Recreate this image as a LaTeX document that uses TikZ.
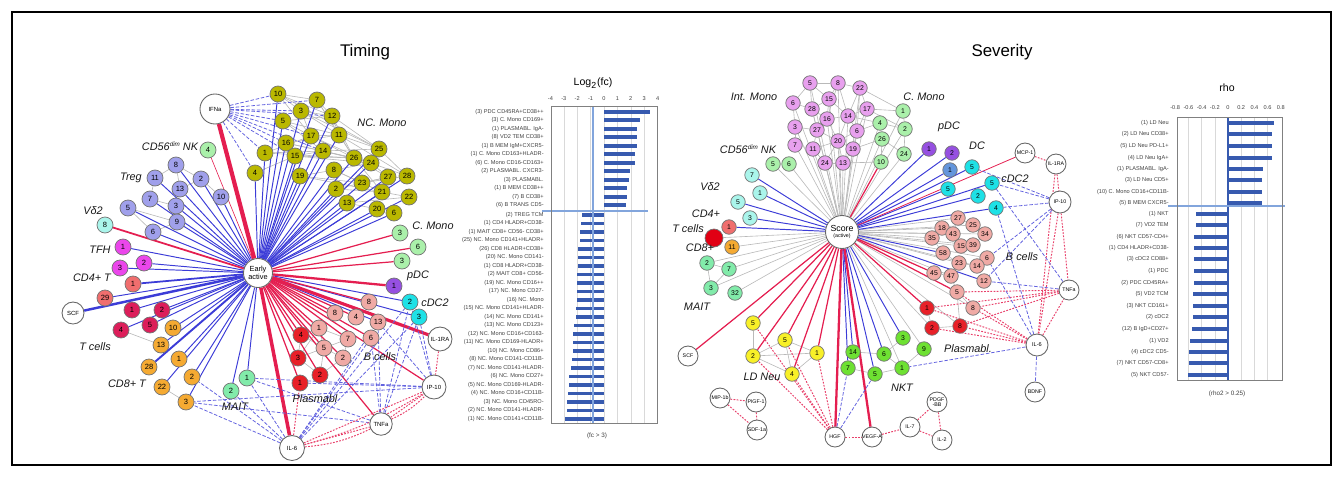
\documentclass[tikz,border=0pt]{standalone}
\usepackage{fontspec}
\setmainfont{Liberation Sans}
\usetikzlibrary{backgrounds}
\definecolor{lnblue}{RGB}{60,60,215}
\definecolor{lnred}{RGB}{228,30,80}
\definecolor{lngray}{RGB}{185,185,185}
\definecolor{ncmono}{RGB}{186,184,0}
\definecolor{cmono}{RGB}{170,240,170}
\definecolor{pdcc}{RGB}{150,80,225}
\definecolor{cdcc}{RGB}{30,225,230}
\definecolor{bcell}{RGB}{240,170,165}
\definecolor{plasma}{RGB}{232,32,40}
\definecolor{mait}{RGB}{130,235,170}
\definecolor{cdeight}{RGB}{245,170,50}
\definecolor{tcell}{RGB}{220,30,90}
\definecolor{cdfour}{RGB}{240,110,110}
\definecolor{tfh}{RGB}{235,70,235}
\definecolor{vdtwo}{RGB}{170,245,235}
\definecolor{treg}{RGB}{160,160,235}
\definecolor{intmono}{RGB}{232,160,238}
\definecolor{ldneu}{RGB}{248,240,40}
\definecolor{nkt}{RGB}{110,225,50}
\definecolor{dcc}{RGB}{100,150,220}
\definecolor{tred}{RGB}{225,0,20}
\definecolor{barblue}{RGB}{55,90,175}
\definecolor{axblue}{RGB}{130,165,220}
\newcommand{\dimsup}{\raisebox{2.2pt}{\fontsize{3.6}{3.6}\selectfont dim}}

\begin{document}
\begin{tikzpicture}[x=0.02cm, y=-0.02cm,
    cell/.style={circle, draw=black!55, fill=#1, line width=0.4pt, inner sep=0pt, minimum size=0.32cm, font=\fontsize{4.3}{4.3}\selectfont},
    scell/.style={cell=#1, minimum size=0.29cm, font=\fontsize{3.9}{3.9}\selectfont},
    cyto/.style={circle, draw=black!60, fill=white, line width=0.5pt, inner sep=0pt, minimum size=#1, font=\fontsize{3.4}{3.6}\selectfont, align=center},
    grp/.style={font=\fontsize{6.2}{7}\selectfont\itshape, inner sep=0pt, text=black!90},
    ttl/.style={font=\fontsize{9.6}{11}\selectfont, inner sep=0pt},
    blab/.style={font=\fontsize{3.2}{3.5}\selectfont, anchor=east, inner sep=0pt, text=black!75},
    axlab/.style={font=\fontsize{3.2}{3.5}\selectfont, inner sep=0pt, text=black!75},
    bl/.style={draw=lnblue, line width=0.55pt},
    rd/.style={draw=lnred, line width=0.7pt},
    gr/.style={draw=lngray, line width=0.35pt},
    bld/.style={draw=lnblue!80, line width=0.45pt, dash pattern=on 2pt off 1pt},
    rdd/.style={draw=lnred!85, line width=0.55pt, dash pattern=on 1pt off 0.8pt},
    barfill/.style={fill=barblue}
  ]
\useasboundingbox (0,0) rectangle (1343,477);
\draw[line width=0.6pt] (12,12) rectangle (1331,465);

\node[ttl] (ttime) at (365,52) {Timing};
\node[ttl] (tsev) at (1002,52) {Severity};

% timing network
\node[cyto=0.58cm, font=\fontsize{4.2}{4.6}\selectfont] (tearly) at (258,273) {Early\\active};
\node[cyto=0.6cm] (tifna) at (215,109) {IFNa};
\node[cyto=0.5cm] (til6) at (292,448) {IL-6};
\node[cyto=0.45cm] (ttnfa) at (381,424) {TNFa};
\node[cyto=0.48cm] (tip10) at (434,387) {IP-10};
\node[cyto=0.48cm] (til1ra) at (440,339) {IL-1RA};
\node[cyto=0.44cm] (tscf) at (73,313) {SCF};

\foreach \t/\x/\y in {10/278/94, 7/317/100, 3/301/111, 12/332/116, 5/283/121, 17/311/136, 11/339/135, 16/286/143, 1/265/153, 15/295/156, 14/323/151, 26/354/158, 25/379/149, 24/371/163, 4/255/173, 19/300/176, 8/334/170, 23/362/183, 27/388/177, 28/407/176, 2/336/189, 21/382/192, 22/409/197, 13/347/203, 20/377/209, 6/394/213}
  \node[cell=ncmono] (tnc\t) at (\x,\y) {\t};
\foreach \t/\x/\y in {8/176/165, 2/201/179, 11/155/178, 13/180/189, 7/150/199, 3/176/206, 10/221/197, 5/128/208, 9/177/222, 6/153/232}
  \node[cell=treg] (ttr\t) at (\x,\y) {\t};
\node[cell=cmono] (tnk4) at (208,150) {4};
\node[cell=vdtwo] (tvd8) at (105,225) {8};
\foreach \t/\x/\y in {1/123/247, 2/144/263, 3/120/268}
  \node[cell=tfh] (ttf\t) at (\x,\y) {\t};
\foreach \t/\x/\y in {1/133/284, 29/105/298}
  \node[cell=cdfour] (tfour\t) at (\x,\y) {\t};
\foreach \t/\x/\y in {1/132/310, 2/162/310, 4/121/330, 5/150/325}
  \node[cell=tcell] (ttc\t) at (\x,\y) {\t};
\foreach \t/\x/\y in {10/173/328, 13/161/345, 1/179/359, 28/149/367, 2/192/377, 22/162/387, 3/186/402}
  \node[cell=cdeight] (teight\t) at (\x,\y) {\t};
\foreach \t/\x/\y in {1/247/378, 2/231/391}
  \node[cell=mait] (tmait\t) at (\x,\y) {\t};
\foreach \t/\x/\y in {4/301/335, 3/298/358, 2/320/375, 1/300/383}
  \node[cell=plasma] (tpl\t) at (\x,\y) {\t};
\foreach \k/\t/\x/\y in {a/8/369/302, b/8/335/313, c/4/356/317, d/13/378/322, e/1/319/328, f/7/348/339, g/6/371/338, h/5/324/348, i/2/343/358}
  \node[cell=bcell] (tb\k) at (\x,\y) {\t};
\foreach \t/\x/\y in {2/410/302, 3/419/317}
  \node[cell=cdcc] (tcdc\t) at (\x,\y) {\t};
\node[cell=pdcc] (tpdc1) at (394,286) {1};
\foreach \k/\t/\x/\y in {a/3/400/233, b/6/418/247, c/3/402/261}
  \node[cell=cmono] (tcm\k) at (\x,\y) {\t};

\node[grp] (lncm) at (382,123) {NC. Mono};
\node[grp] (lcm) at (433,226) {C. Mono};
\node[grp] (lpdc) at (418,276) {pDC};
\node[grp] (lcdc) at (435,303) {cDC2};
\node[grp] (lbc) at (380,357) {B cells};
\node[grp] (lpl) at (315,399) {Plasmabl};
\node[grp] (lmait) at (235,407) {MAIT};
\node[grp] (leight) at (127,384) {CD8+ T};
\node[grp] (ltc) at (95,347) {T cells};
\node[grp] (lfour) at (92,278) {CD4+ T};
\node[grp] (ltfh) at (100,250) {TFH};
\node[grp] (lvd) at (93,211) {Vδ2};
\node[grp] (ltreg) at (131,178) {Treg};
\node[grp] (lnk) at (170,146) {CD56\dimsup{} NK};

\begin{scope}[on background layer]
\foreach \a/\b in {10/7,10/3,10/12,10/17,10/25,7/12,7/11,7/26,3/17,3/12,3/11,3/25,12/11,12/25,12/26,5/17,5/14,5/11,17/11,17/26,17/24,16/14,16/26,1/14,1/26,15/26,15/24,14/26,14/24,14/25,11/25,11/26,11/28,26/24,26/27,26/21,24/28,24/27,8/23,8/21,19/23,19/21,2/21,2/27,13/20,13/22,23/27,23/28,21/22,25/28,16/11,15/14,5/12,1/17,4/15,19/8,8/24}
  \draw[gr] (tnc\a) -- (tnc\b);
\foreach \a/\b in {8/2,8/11,8/13,11/7,13/3,7/3,5/9,5/6,9/6,2/10,3/9,13/2}
  \draw[gr] (ttr\a) -- (ttr\b);
\foreach \a/\b in {pl4/be,pl4/bh,pl3/bh,pl3/be,pl2/bh,pl2/bi,be/bh,bh/bi,be/bf,bf/bi,pl4/pl3,bh/bf,pl3/pl2,tc4/eight13,eight22/eight3}
  \draw[gr] (t\a) -- (t\b);
\foreach \t in {10,7,3,12,5,17,11,16,1,15,14,26,25,24,4,19,8,23,27,28,2,21,22,13,20,6}
  \draw[bl] (tearly) -- (tnc\t);
\foreach \n in {tr8,tr2,tr11,tr13,tr7,tr3,tr10,tr5,tr9,tr6,tf1,tf2,tf3,four29,tc1,tc2,tc4,tc5,eight10,eight13,eight1,eight2,eight22,eight3,mait1,mait2,cdc2,cdc3,bd}
  \draw[bl] (tearly) -- (t\n);
\draw[bl, line width=1pt] (tearly) -- (tfour1);
\draw[bl, line width=1.1pt] (tearly) -- (teight28);
\draw[bl, line width=1.4pt] (tearly) -- (tscf);
\draw[rd, line width=2.4pt] (tearly) -- (tifna);
\draw[rd, line width=0.35pt] (tearly) -- (tnk4);
\draw[rd, line width=1pt] (tearly) -- (tvd8);
\draw[rd, line width=2pt] (tearly) -- (til6);
\draw[rd, line width=1.8pt] (tearly) -- (til1ra);
\draw[rd, line width=1.3pt] (tearly) -- (tpdc1);
\foreach \n in {pl1,pl2,pl3,pl4,ba,bb,bc,be,bf,bg,bh,bi,cma,cmb,cmc,tnfa,ip10}
  \draw[rd] (tearly) -- (t\n);
\foreach \t in {10,7,3,12,5,17,16,1,4,15,14}
  \draw[bld] (tifna) -- (tnc\t);
\foreach \a/\b in {il6/mait1,il6/mait2,il6/eight3,il6/cdc2,il6/cdc3,il6/bg,il6/bd,tnfa/eight3,tnfa/mait1,tnfa/cdc2,tnfa/bg,tnfa/bd,tnfa/cdc3,ip10/eight3,ip10/mait1,ip10/pl1,ip10/cdc2,ip10/cdc3,ip10/bd,il6/eight2}
  \draw[bld] (t\a) -- (t\b);
\foreach \a/\b in {il6/tnfa,il6/ip10,tnfa/ip10,il1ra/ip10,il6/pl1}
  \draw[rdd] (t\a) -- (t\b);
\draw[rdd] (til6) to[bend right=10] (ttnfa);
\draw[rdd] (til6) to[bend right=8] (tip10);
\draw[rdd] (ttnfa) to[bend right=10] (tip10);
\end{scope}

% log2 fc chart
\node[font=\fontsize{6}{7}\selectfont, inner sep=0pt] (lfct) at (593,83) {Log\textsubscript{2}(fc)};
\foreach \k in {-3,...,3}
  \draw[black!15, line width=0.3pt] ({604+13.4*(\k)},106) -- ({604+13.4*(\k)},423);
\foreach \k [count=\i] in {-4,...,4}
  \node[axlab] (lfx\i) at ({604+13.4*(\k)},99) {\k};
\foreach \y/\v/\t [count=\i] in {111.7/3.43/{(3) PDC CD45RA+CD38++}, 120.2/2.69/{(3) C. Mono CD169+}, 128.7/2.49/{(1) PLASMABL. IgA-}, 137.2/2.49/{(8) VD2 TEM CD38+}, 145.7/2.45/{(1) B MEM IgM+CXCR5-}, 154.2/2.3/{(1) C. Mono CD163+HLADR-}, 162.7/2.3/{(6) C. Mono CD16-CD163+}, 171.2/1.94/{(2) PLASMABL. CXCR3-}, 179.7/1.89/{(3) PLASMABL.}, 188.2/1.74/{(1) B MEM CD38++}, 196.7/1.74/{(7) B CD38+}, 205.2/1.62/{(6) B TRANS CD5-}}
{
  \fill[barfill] (604,\y-1.9) rectangle ({604+13.4*(\v)},\y+1.9);
  \node[blab] (lfa\i) at (544,\y) {\t};
}
\foreach \y/\v/\t [count=\i] in {215/-1.64/{(2) TREG TCM}, 223.5/-1.72/{(1) CD4 HLADR+CD38-}, 232/-1.79/{(1) MAIT CD8+ CD56- CD38+}, 240.5/-1.79/{(25) NC. Mono CD141+HLADR+}, 249/-1.94/{(26) CD8 HLADR+CD38+}, 257.5/-1.94/{(20) NC. Mono CD141-}, 266/-1.94/{(1) CD8 HLADR+CD38-}, 274.5/-2.0/{(2) MAIT CD8+ CD56-}, 283/-2.0/{(19) NC. Mono CD16++}, 291.5/-2.0/{(17) NC. Mono CD27-}, 300/-2.0/{(16) NC. Mono}, 308.5/-2.1/{(15) NC. Mono CD141+HLADR-}, 317/-2.1/{(14) NC. Mono CD141+}, 325.5/-2.24/{(13) NC. Mono CD123+}, 334/-2.3/{(12) NC. Mono CD16+CD163-}, 342.5/-2.3/{(11) NC. Mono CD169-HLADR+}, 351/-2.3/{(10) NC. Mono CD86+}, 359.5/-2.4/{(8) NC. Mono CD141-CD11B-}, 368/-2.5/{(7) NC. Mono CD141-HLADR-}, 376.5/-2.6/{(6) NC. Mono CD27+}, 385/-2.6/{(5) NC. Mono CD169-HLADR-}, 393.5/-2.7/{(4) NC. Mono CD16+CD11B-}, 402/-2.75/{(3) NC. Mono CD45RO-}, 410.5/-2.75/{(2) NC. Mono CD141-HLADR-}, 419/-2.9/{(1) NC. Mono CD141+CD11B-}}
{
  \fill[barfill] (604,\y-1.9) rectangle ({604+13.4*(\v)},\y+1.9);
  \node[blab] (lfb\i) at (544,\y) {\t};
}
\draw[axblue, line width=1.3pt] (593,106) -- (593,423);
\draw[axblue, line width=1.3pt] (542,211) -- (648,211);
\draw[black!50, line width=0.4pt] (551,106) rectangle (657,423);
\node[axlab, font=\fontsize{3.6}{4}\selectfont] (lfcf) at (597,436) {(fc > 3)};

% severity network
\node[cyto=0.66cm, font=\fontsize{5}{5}\selectfont] (sscore) at (842,232) {Score\\[-1.5pt]{\fontsize{3}{3}\selectfont (active)}};
\foreach \n/\x/\y/\t in {mcp/1025/153/MCP-1, il1ra/1056/164/IL-1RA, tnfa/1069/290/TNFa, bdnf/1035/392/BDNF, hgf/835/437/HGF, vegf/872/437/VEGF-A, il7/910/427/IL-7, il2/942/440/IL-2, mip/720/398/MIP-1b, pigf/756/402/PIGF-1, sdf/757/430/SDF-1a, scf/688/356/SCF}
  \node[cyto=0.4cm, font=\fontsize{3}{3.2}\selectfont] (s\n) at (\x,\y) {\t};
\node[cyto=0.44cm, font=\fontsize{3}{3.2}\selectfont] (sip10) at (1060,202) {IP-10};
\node[cyto=0.44cm, font=\fontsize{3.2}{3.2}\selectfont] (sil6) at (1037,345) {IL-6};
\node[cyto=0.4cm, font=\fontsize{3}{3.2}\selectfont] (spdgf) at (937,402) {PDGF\\-BB};

\foreach \k/\t/\x/\y in {a/5/810/83, b/8/838/83, c/22/860/88, d/6/793/103, e/15/829/99, f/28/812/109, g/17/867/109, h/16/827/119, i/14/848/116, j/3/795/127, k/27/817/130, l/6/857/131, m/20/838/141, n/7/795/145, o/11/813/149, p/19/853/149, q/24/825/163, r/13/843/163}
  \node[scell=intmono] (sim\k) at (\x,\y) {\t};
\foreach \k/\t/\x/\y in {a/1/903/111, b/4/880/123, c/2/905/129, d/26/882/139, e/24/904/154, f/10/881/162}
  \node[scell=cmono] (scm\k) at (\x,\y) {\t};
\foreach \k/\t/\x/\y in {a/5/773/164, b/6/789/164}
  \node[scell=cmono] (snk\k) at (\x,\y) {\t};
\foreach \t/\x/\y in {1/929/149, 2/952/153}
  \node[scell=pdcc] (spdc\t) at (\x,\y) {\t};
\node[scell=dcc] (sdc1) at (950,170) {1};
\foreach \k/\t/\x/\y in {a/5/972/167, b/5/948/189, c/5/992/183, d/2/978/196, e/4/996/208}
  \node[scell=cdcc] (scdc\k) at (\x,\y) {\t};
\foreach \k/\t/\x/\y in {a/7/752/175, b/1/760/193, c/5/738/202, d/3/750/218}
  \node[scell=vdtwo] (svd\k) at (\x,\y) {\t};
\node[scell=cdfour] (sfour1) at (729,227) {1};
\node[scell=tred, minimum size=0.36cm] (stc) at (714,238) {};
\node[scell=cdeight] (seight11) at (732,247) {11};
\foreach \k/\t/\x/\y in {a/2/707/263, b/7/729/269, c/3/711/288, d/32/735/293}
  \node[scell=mait] (smait\k) at (\x,\y) {\t};
\foreach \k/\t/\x/\y in {a/5/753/323, b/5/785/340, c/1/817/353, d/2/753/356, e/4/792/374}
  \node[scell=ldneu] (sld\k) at (\x,\y) {\t};
\foreach \k/\t/\x/\y in {a/3/903/338, b/14/853/352, c/6/884/354, d/9/924/349, e/7/848/368, f/5/875/374, g/1/902/368}
  \node[scell=nkt] (snkt\k) at (\x,\y) {\t};
\foreach \k/\t/\x/\y in {a/1/927/308, b/2/932/328, c/8/960/326}
  \node[scell=plasma] (spl\k) at (\x,\y) {\t};
\foreach \k/\t/\x/\y in {a/27/958/218, b/25/973/225, c/18/942/228, d/43/953/234, e/34/985/234, f/35/932/238, g/15/961/246, h/39/973/245, i/58/943/253, j/6/987/258, k/23/959/263, l/14/977/266, m/45/934/273, n/47/951/276, o/12/984/281, p/5/957/292, q/8/973/308}
  \node[scell=bcell] (sbc\k) at (\x,\y) {\t};

\node[grp] (rim) at (754,97) {Int. Mono};
\node[grp] (rcm) at (924,97) {C. Mono};
\node[grp] (rpdc) at (949,127) {pDC};
\node[grp] (rdc) at (977,146) {DC};
\node[grp] (rcdc) at (1015,179) {cDC2};
\node[grp] (rnk) at (748,149) {CD56\dimsup{} NK};
\node[grp] (rvd) at (710,187) {Vδ2};
\node[grp] (rfour) at (706,214) {CD4+};
\node[grp] (rtc) at (688,229) {T cells};
\node[grp] (reight) at (700,248) {CD8+};
\node[grp] (rmait) at (697,307) {MAIT};
\node[grp] (rld) at (762,377) {LD Neu};
\node[grp] (rnkt) at (902,388) {NKT};
\node[grp] (rpl) at (968,349) {Plasmabl.};
\node[grp] (rbc) at (1022,257) {B cells};

\begin{scope}[on background layer]
\foreach \a/\b in {a/b,a/e,a/f,a/d,b/c,b/e,b/i,c/g,c/i,d/f,d/j,e/f,e/h,e/i,f/h,f/k,g/i,g/l,h/i,h/k,h/m,i/l,i/m,j/k,j/n,k/m,k/o,l/m,l/p,m/o,m/p,m/q,m/r,n/o,o/q,p/r,q/r,c/l,b/h}
  \draw[gr] (sim\a) -- (sim\b);
\foreach \a/\b in {img/cma,iml/cmb,imp/cmd,imr/cmf,imi/cmb,img/cmc,imc/cma,cma/cmc,cmb/cmd,cmc/cme,cmd/cmf,cmb/cmc,cmd/cme,bca/bcb,bcc/bcd,bcd/bcg,bcf/bci,bcg/bch,bch/bce,bci/bck,bck/bcn,bcl/bcj,bcm/bcn,bcn/bcp,bcp/bcq,bck/bcl,bcd/bca,lda/ldd,ldd/ldb,ldb/lde,ldb/ldc,ldd/ldc,ldd/lde,ldc/lde,nktb/nktc,nkte/nktf,nktf/nktg,nktc/nktg,nkta/nktc,nktb/nkte,nktd/nktg,maita/maitb,maita/maitc,maitb/maitc,pla/plb,plb/plc,bcp/plc}
  \draw[gr] (s\a) -- (s\b);
\foreach \n in {ima,imb,imc,imd,ime,imf,img,imh,imi,imj,imk,iml,imm,imn,imo,imp,imq,imr,cma,cmb,cmc,cmd,cme,nka,nkb,maita,maitb,maitc,maitd,eight11,tc,bca,bcb,bcc,bcd,bce,bcf,bcg,bch,bcj,bck,bcl,bcn,bcq,nktd,nktg,plb,plc}
  \draw[gr] (sscore) -- (s\n);
\foreach \n in {pdc1,pdc2,dc1,cdca,cdcb,cdcc,cdcd,cdce,vda,vdb,vdc,vdd,four1,bco,bci,nkta,nktb,nktc,nkte,nktf}
  \draw[bl] (sscore) -- (s\n);
\foreach \n in {cmf,lda,ldb,ldc,ldd,lde,scf,pla,bcm,bcp}
  \draw[rd] (sscore) -- (s\n);
\draw[rd, line width=0.45pt] (sscore) -- (smcp);
\draw[rd, line width=1.3pt] (sscore) -- (shgf);
\draw[rd, line width=1.3pt] (sscore) -- (svegf);
\foreach \a/\b in {hgf/ldd,hgf/lde,hgf/ldc,hgf/ldb,hgf/lda,hgf/vegf,vegf/il7,il7/pdgf,il7/il2,pdgf/il2,mip/pigf,mip/sdf,pigf/sdf,il6/pla,il6/plb,il6/plc,il6/bcp,il6/bcq,tnfa/pla,tnfa/plc,tnfa/bcp,tnfa/bcq,il6/tnfa,ip10/tnfa,ip10/il6,il1ra/ip10,mcp/il1ra,il1ra/il6}
  \draw[rdd] (s\a) -- (s\b);
\foreach \a/\b in {ip10/cdcc,ip10/cdce,ip10/cdca,ip10/bco,ip10/bcl,il6/cdce,il6/nktg,il6/bdnf,tnfa/bco,hgf/nkte,hgf/nktf,tnfa/cdcc,il6/bcj}
  \draw[bld] (s\a) -- (s\b);
\end{scope}

% rho chart
\node[font=\fontsize{6}{7}\selectfont, inner sep=0pt] (rhot) at (1227,88) {rho};
\foreach \k in {-3,...,3}
  \draw[black!15, line width=0.3pt] ({1228+66*0.2*(\k)},117) -- ({1228+66*0.2*(\k)},380);
\foreach \k/\t [count=\i] in {-0.8/-0.8, -0.6/-0.6, -0.4/-0.4, -0.2/-0.2, 0/0, 0.2/0.2, 0.4/0.4, 0.6/0.6, 0.8/0.8}
  \node[axlab] (rhx\i) at ({1228+66*(\k)},108) {\t};
\foreach \y/\v/\t [count=\i] in {123/0.70/{(1) LD Neu}, 134/0.66/{(2) LD Neu CD38+}, 146/0.66/{(5) LD Neu PD-L1+}, 158/0.66/{(4) LD Neu IgA+}, 169/0.535/{(1) PLASMABL. IgA-}, 180/0.52/{(3) LD Neu CD5+}, 192/0.52/{(10) C. Mono CD16+CD11B-}, 203/0.52/{(5) B MEM CXCR5-}}
{
  \fill[barfill] (1228,\y-2.3) rectangle ({1228+66*(\v)},\y+2.3);
  \node[blab] (rha\i) at (1169,\y) {\t};
}
\foreach \y/\v/\t [count=\i] in {214/-0.485/{(1) NKT}, 225/-0.485/{(7) VD2 TEM}, 237/-0.52/{(6) NKT CD57-CD4+}, 248/-0.52/{(1) CD4 HLADR+CD38-}, 259/-0.51/{(3) cDC2 CD88+}, 271/-0.52/{(1) PDC}, 283/-0.51/{(2) PDC CD45RA+}, 294/-0.535/{(5) VD2 TCM}, 306/-0.535/{(3) NKT CD161+}, 317/-0.535/{(2) cDC2}, 329/-0.55/{(12) B IgD+CD27+}, 341/-0.575/{(1) VD2}, 352/-0.585/{(4) cDC2 CD5-}, 363/-0.59/{(7) NKT CD57-CD8+}, 375/-0.61/{(5) NKT CD57-}}
{
  \fill[barfill] (1228,\y-2.3) rectangle ({1228+66*(\v)},\y+2.3);
  \node[blab] (rhb\i) at (1169,\y) {\t};
}
\draw[barblue, line width=0.9pt] (1228,117) -- (1228,380);
\draw[axblue, line width=0.8pt] (1168,206) -- (1285,206);
\draw[black!50, line width=0.4pt] (1177,117) rectangle (1282,380);
\node[axlab, font=\fontsize{3.6}{4}\selectfont] (rhof) at (1227,394) {(rho2 > 0.25)};
\end{tikzpicture}
\end{document}
